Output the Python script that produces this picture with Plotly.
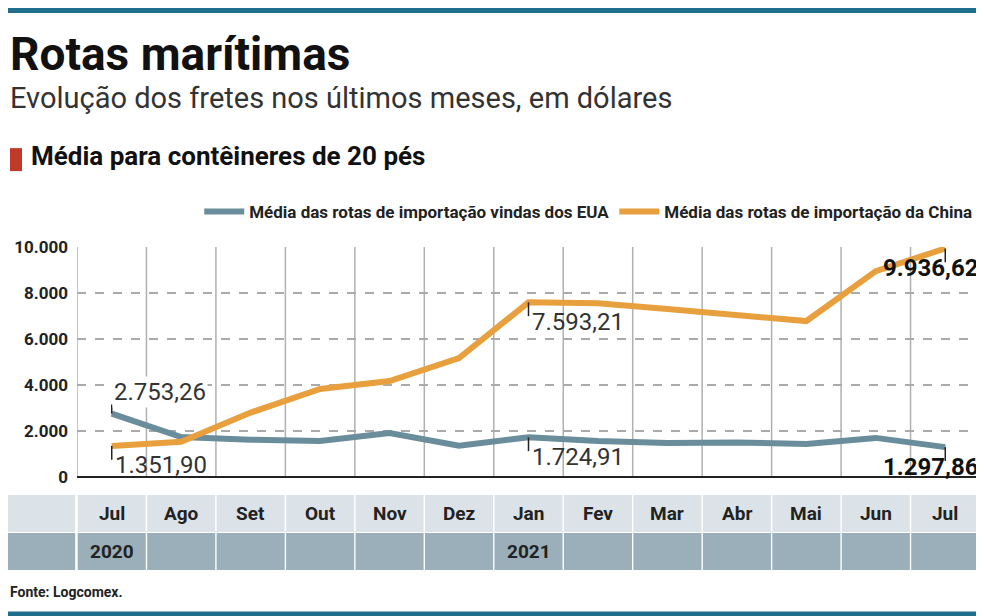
import plotly.graph_objects as go

meses = ["Jul", "Ago", "Set", "Out", "Nov", "Dez", "Jan", "Fev", "Mar", "Abr", "Mai", "Jun", "Jul"]
anos = {0: "2020", 6: "2021"}
eua = [2753.26, 1740, 1620, 1570, 1910, 1360, 1724.91, 1560, 1480, 1500, 1440, 1700, 1297.86]
china = [1351.90, 1530, 2800, 3830, 4170, 5170, 7593.21, 7550, 7300, 7050, 6780, 8950, 9936.62]

BLUE = "#6a8d9c"
ORANGE = "#e8a03e"
FONT = "Roboto, sans-serif"
x = list(range(len(meses)))

fig = go.Figure()
fig.add_trace(go.Scatter(x=x, y=eua, mode="lines", line=dict(color=BLUE, width=6),
                         name="<b>Média das rotas de importação vindas dos EUA</b>"))
fig.add_trace(go.Scatter(x=x, y=china, mode="lines", line=dict(color=ORANGE, width=6),
                         name="<b>Média das rotas de importação da China</b>"))

shapes, annotations = [], []

# vertical column separators
for i in range(len(meses) + 1):
    shapes.append(dict(type="line", xref="x", yref="y", x0=i - 0.5, x1=i - 0.5, y0=0, y1=10000,
                       line=dict(color="#b0b0b0", width=1.5), layer="below"))

# month / year table (paper height = 230 px)
rows = [(-0.078, -0.239, "#dbe3e8", -0.158), (-0.243, -0.404, "#9aafb9", -0.323)]
for y0, y1, col, _ in rows:
    shapes.append(dict(type="rect", xref="paper", yref="paper", x0=-0.085, x1=-0.002,
                       y0=y0, y1=y1, fillcolor=col, line=dict(width=0)))
    for i in x:
        shapes.append(dict(type="rect", xref="x", yref="paper", x0=i - 0.49, x1=i + 0.49,
                           y0=y0, y1=y1, fillcolor=col, line=dict(width=0)))
for i, m in enumerate(meses):
    annotations.append(dict(x=i, y=rows[0][3], xref="x", yref="paper", text=f"<b>{m}</b>", yanchor="middle",
                            showarrow=False, font=dict(size=19, color="#222", family=FONT)))
for i, a in anos.items():
    annotations.append(dict(x=i, y=rows[1][3], xref="x", yref="paper", text=f"<b>{a}</b>", yanchor="middle",
                            showarrow=False, font=dict(size=19, color="#222", family=FONT)))

def fmt(v):
    s = f"{v:,.2f}"
    return s.replace(",", "X").replace(".", ",").replace("X", ".")

# value labels with leader ticks
labels = [(0, eua[0], "up", False), (0, china[0], "down", False),
          (6, china[6], "down", False), (6, eua[6], "down", False),
          (12, china[12], "down", True), (12, eua[12], "down", True)]
for i, v, d, bold in labels:
    if d == "up":
        shapes.append(dict(type="line", x0=i, x1=i, y0=v, y1=v + 400, line=dict(color="#222", width=1.5)))
        annotations.append(dict(x=i, y=v + 250, text=fmt(v), xanchor="left", yanchor="bottom", showarrow=False,
                                bgcolor="white", font=dict(size=24, color="#333", family=FONT)))
    else:
        shapes.append(dict(type="line", x0=i, x1=i, y0=v, y1=v - 600, line=dict(color="#222", width=1.5)))
        if bold:
            annotations.append(dict(x=1, xref="paper", y=v - 150, text=f"<b>{fmt(v)}</b>", xanchor="right",
                                    yanchor="top", showarrow=False, font=dict(size=24, color="#111", family=FONT)))
        else:
            annotations.append(dict(x=i + 0.02, y=v - 150, text=fmt(v), xanchor="left", yanchor="top",
                                    showarrow=False, font=dict(size=24, color="#333", family=FONT)))

# header
annotations += [
    dict(x=0, y=1, xref="paper", yref="paper", xanchor="left", yanchor="top", xshift=-69, yshift=222,
         text="<b>Rotas marítimas</b>", showarrow=False, font=dict(size=46, color="#111", family=FONT)),
    dict(x=0, y=1, xref="paper", yref="paper", xanchor="left", yanchor="top", xshift=-69, yshift=168,
         text="Evolução dos fretes nos últimos meses, em dólares", showarrow=False,
         font=dict(size=29, color="#333", family=FONT)),
    dict(x=0, y=1, xref="paper", yref="paper", xanchor="left", yanchor="top", xshift=-48, yshift=108,
         text="<b>Média para contêineres de 20 pés</b>", showarrow=False, font=dict(size=26, color="#111", family=FONT)),
    dict(x=0, y=0, xref="paper", yref="paper", xanchor="left", yanchor="top", xshift=-69, yshift=-105,
         text="<b>Fonte: Logcomex.</b>", showarrow=False, font=dict(size=14, color="#222", family=FONT)),
]
shapes += [
    dict(type="rect", xref="paper", yref="paper", x0=-0.0742, x1=-0.0609, y0=1.43, y1=1.33,
         fillcolor="#c0392b", line=dict(width=0)),
    dict(type="rect", xref="paper", yref="paper", x0=-0.1, x1=1.1, y0=2.039, y1=2.017,
         fillcolor="#1f6e8c", line=dict(width=0)),
    dict(type="rect", xref="paper", yref="paper", x0=-0.1, x1=1.1, y0=-0.585, y1=-0.62,
         fillcolor="#1f6e8c", line=dict(width=0)),
]

fig.update_layout(
    width=984, height=616, paper_bgcolor="white", plot_bgcolor="white",
    margin=dict(l=69, r=12, t=239, b=147, autoexpand=False),
    font=dict(family=FONT),
    shapes=shapes, annotations=annotations,
    legend=dict(orientation="h", x=0.985, xanchor="right", xref="container", y=0.669, yref="container",
                yanchor="middle", font=dict(size=17, color="#222", family=FONT), itemwidth=40),
    xaxis=dict(range=[-0.5, 12.5], showticklabels=False, showgrid=False, zeroline=False, fixedrange=True),
    yaxis=dict(range=[0, 10000], tickvals=[0, 2000, 4000, 6000, 8000, 10000],
               ticktext=["<b>0</b>", "<b>2.000</b>", "<b>4.000</b>", "<b>6.000</b>", "<b>8.000</b>", "<b>10.000</b>"],
               tickfont=dict(size=17, color="#222"), gridcolor="#aaa", griddash="dash", gridwidth=1.5,
               zeroline=True, zerolinecolor="#222", zerolinewidth=2, ticklen=0, ticks="", ticklabelstandoff=8),
)
fig.write_html("out.html")
